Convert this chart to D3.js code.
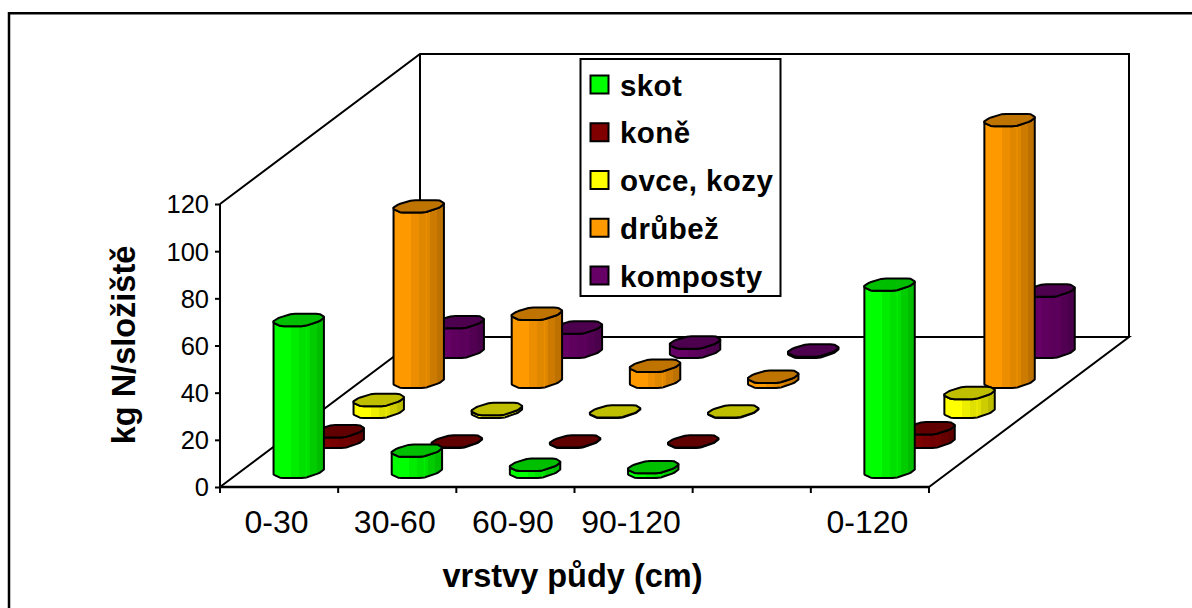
<!DOCTYPE html>
<html>
<head>
    <title>Dusik ve vrstvach pudy</title>
    <meta charset="utf-8">
    <style>
        html, body { margin: 0; background: #fff; }
        svg { display: block; }
        text { font-family: "Liberation Sans", Arial, sans-serif; fill: #000; }
    </style>
</head>
<body>
<script src="https://d3js.org/d3.v7.min.js"></script>
<script>
    const categories = ['0-30', '30-60', '60-90', '90-120', '', '0-120'];
    const seriesNames = ['skot', 'koně', 'ovce, kozy', 'drůbež', 'komposty'];
    const skot = [64.4, 9, 3, 2, null, 79.4];
    const kone = [4.5, 0.2, 0.2, 0.2, null, 5.8];
    const ovce = [5, 1.2, 0.2, 0.2, null, 8];
    const drubez = [74.4, 28.9, 6.8, 2.2, null, 111];
    const komposty = [12.6, 10.3, 4, 0.6, null, 26];
    const seriesValues = [skot, kone, ovce, drubez, komposty];
    const seriesColors = ['#00ff00', '#800000', '#ffff00', '#ff9900', '#660066'];
    const yTicks = [0, 20, 40, 60, 80, 100, 120];

    const SIZES = {WIDTH: 1192, HEIGHT: 608, LEFT: 220, RIGHT: 929, BASE: 487, TOP: 204, DEPTH_X: 200, DEPTH_Y: 150};

    const x = d3.scaleBand().domain(d3.range(categories.length)).range([SIZES.LEFT, SIZES.RIGHT]);
    const y = d3.scaleLinear().domain([0, 120]).range([SIZES.BASE, SIZES.TOP]);
    // depth goes from 0 (front edge of the floor) to 1 (back wall)
    const z = d3.scaleBand().domain(d3.range(seriesNames.length)).range([0, 1]);

    const project = (px, value, depth) => [px + depth * SIZES.DEPTH_X, y(value) - depth * SIZES.DEPTH_Y];
    const line = d3.line();
    const [xa, xb] = x.range();

    const svg = d3.select('body').append('svg')
        .attr('width', SIZES.WIDTH)
        .attr('height', SIZES.HEIGHT);

    // chart frame, only top and left show in the picture
    svg.append('path')
        .attr('d', 'M9,608V13.3H1192')
        .attr('fill', 'none').attr('stroke', '#000').attr('stroke-width', 2.5);

    // walls and floor
    const walls = svg.append('g').attr('fill', 'none').attr('stroke', '#000').attr('stroke-width', 2);
    const wall = points => walls.append('path').attr('d', line(points));
    wall([project(xa, 120, 0), project(xa, 120, 1), project(xb, 120, 1), project(xb, 0, 1)]);
    wall([project(xa, 0, 0), project(xa, 0, 1), project(xb, 0, 1), project(xb, 0, 0)]);
    wall([project(xa, 0, 1), project(xa, 120, 1)]);

    // y axis on the front left edge
    const yAxis = svg.append('g')
        .attr('transform', `translate(${SIZES.LEFT},0)`)
        .call(d3.axisLeft(y).tickValues(yTicks).tickSize(5).tickPadding(6));
    yAxis.select('.domain').attr('stroke-width', 2).attr('d', `M0,${SIZES.BASE}V${SIZES.TOP}`);
    yAxis.selectAll('line').attr('stroke-width', 2);
    yAxis.selectAll('text').attr('font-size', 25.5).attr('font-family', '"Liberation Sans"').attr('dy', '0.35em');

    // x axis, ticks sit between the categories
    const xAxis = svg.append('g')
        .attr('transform', `translate(0,${SIZES.BASE})`)
        .call(d3.axisBottom(x).tickSize(0).tickPadding(23).tickFormat(i => categories[i]));
    xAxis.select('.domain').attr('stroke-width', 2.5).attr('d', `M${xa},0H${xb}`);
    xAxis.selectAll('text').attr('font-size', 32).attr('font-family', '"Liberation Sans"').attr('dx', -2.5);
    xAxis.selectAll('.sep').data(d3.range(categories.length + 1)).enter().append('line')
        .attr('class', 'sep')
        .attr('x1', i => xa + i * x.step()).attr('x2', i => xa + i * x.step())
        .attr('y1', 0).attr('y2', 6)
        .attr('stroke', '#000').attr('stroke-width', 2);

    const RADIUS_X = 23.5, RADIUS_Z = 0.045;
    // cross section of a cylinder, in units of the floor radius
    const CORNERS = [
        [-1.03, -0.15], [-1.0, 0.34], [-0.66, 0.94], [0.5, 0.94], [0.91, 0.45],
        [0.93, -0.15], [0.57, -0.9], [-0.43, -0.9], [-0.93, -0.4]
    ];
    const between = (a, b, t) => [a[0] + (b[0] - a[0]) * t, a[1] + (b[1] - a[1]) * t];
    // cut each corner a little so the outline is not too sharp
    const SECTION = CORNERS.flatMap((p, i) => {
        const prev = CORNERS[(i + CORNERS.length - 1) % CORNERS.length];
        const next = CORNERS[(i + 1) % CORNERS.length];
        return [between(p, prev, 0.12), between(p, next, 0.12)];
    });
    // screen x of a section point, relative to the cylinder axis
    const screenX = p => p[0] * RADIUS_X + p[1] * RADIUS_Z * SIZES.DEPTH_X;

    // the part of the section that faces the viewer, left to right, walking back round the ring
    const leftIndex = d3.scan(SECTION, (a, b) => screenX(a) - screenX(b));
    const rightIndex = d3.scan(SECTION, (a, b) => screenX(b) - screenX(a));
    const FRONT = [];
    for (let i = leftIndex; ; i = (i + SECTION.length - 1) % SECTION.length) {
        FRONT.push(SECTION[i]);
        if (i === rightIndex) break;
    }

    const shade = (color, k) => {
        const c = d3.rgb(color);
        return d3.rgb(c.r * k, c.g * k, c.b * k).formatHex();
    };

    // side of the cylinders gets darker in steps from left to right
    const SIDE_STOPS = [[0, 1], [0.35, 1], [0.35, 0.93], [0.5, 0.93], [0.5, 0.88], [0.72, 0.88], [0.72, 0.8], [0.86, 0.8], [0.86, 0.74], [1, 0.74]];
    const gradients = svg.append('defs').selectAll('linearGradient').data(seriesColors).enter().append('linearGradient')
        .attr('id', (d, i) => `side-${i}`);
    gradients.selectAll('stop').data(c => SIDE_STOPS.map(([offset, k]) => ({offset, k, c}))).enter().append('stop')
        .attr('offset', d => d.offset)
        .attr('stop-color', d => shade(d.c, d.k));

    const bars = [];
    seriesValues.forEach((values, s) => values.forEach((v, c) => {
        if (v !== null) bars.push({s, c, v});
    }));
    // back rows first
    bars.sort((a, b) => b.s - a.s || a.c - b.c);

    const barGroups = svg.append('g').selectAll('g').data(bars).enter().append('g');

    barGroups.each(function (d) {
        const g = d3.select(this);
        const cx = x(d.c) + x.bandwidth() / 2;
        const cz = z(d.s) + z.bandwidth() / 2;
        const at = (p, value) => project(cx + p[0] * RADIUS_X, value, cz + p[1] * RADIUS_Z);
        const color = seriesColors[d.s];

        // side, with its outline
        g.append('path')
            .attr('d', line([...FRONT.map(p => at(p, 0)), ...FRONT.slice().reverse().map(p => at(p, d.v))]) + 'Z')
            .attr('fill', `url(#side-${d.s})`)
            .attr('stroke', '#000').attr('stroke-width', 2).attr('stroke-linejoin', 'round');
        // thin highlight on the darker side
        const edge = FRONT[d3.scan(FRONT, (a, b) => Math.abs(screenX(a) - 12) - Math.abs(screenX(b) - 12))];
        g.append('path')
            .attr('d', line([at(edge, 0), at(edge, d.v)]))
            .attr('stroke', shade(color, 1)).attr('stroke-opacity', 0.5).attr('stroke-width', 1);
        // top of the cylinder
        g.append('path')
            .attr('d', line(SECTION.map(p => at(p, d.v))) + 'Z')
            .attr('fill', shade(color, 0.75))
            .attr('stroke', '#000').attr('stroke-width', 2).attr('stroke-linejoin', 'round');
    });

    // legend
    const legend = svg.append('g');
    legend.append('rect')
        .attr('x', 580.5).attr('y', 59).attr('width', 200).attr('height', 237)
        .attr('fill', '#fff').attr('stroke', '#000').attr('stroke-width', 2);
    const legendY = d3.scalePoint().domain(d3.range(seriesNames.length)).range([84.5, 275.5]);
    const items = legend.selectAll('.item').data(seriesNames).enter().append('g')
        .attr('class', 'item')
        .attr('transform', (d, i) => `translate(0,${legendY(i)})`);
    items.append('rect')
        .attr('x', 590.5).attr('y', -9).attr('width', 18).attr('height', 18)
        .attr('fill', (d, i) => seriesColors[i])
        .attr('stroke', '#000').attr('stroke-width', 2);
    items.append('text')
        .attr('x', 620).attr('y', 11)
        .attr('font-size', 29.5).attr('font-weight', 'bold')
        .attr('letter-spacing', 0.4)
        .text(d => d);

    // axis titles
    svg.append('text')
        .attr('x', 572.5).attr('y', 587)
        .attr('text-anchor', 'middle')
        .attr('font-size', 32.5).attr('font-weight', 'bold')
        .text('vrstvy půdy (cm)');
    svg.append('text')
        .attr('transform', 'translate(135,345) rotate(-90)')
        .attr('text-anchor', 'middle')
        .attr('font-size', 32.5).attr('font-weight', 'bold')
        .text('kg N/složiště');
</script>
</body>
</html>
